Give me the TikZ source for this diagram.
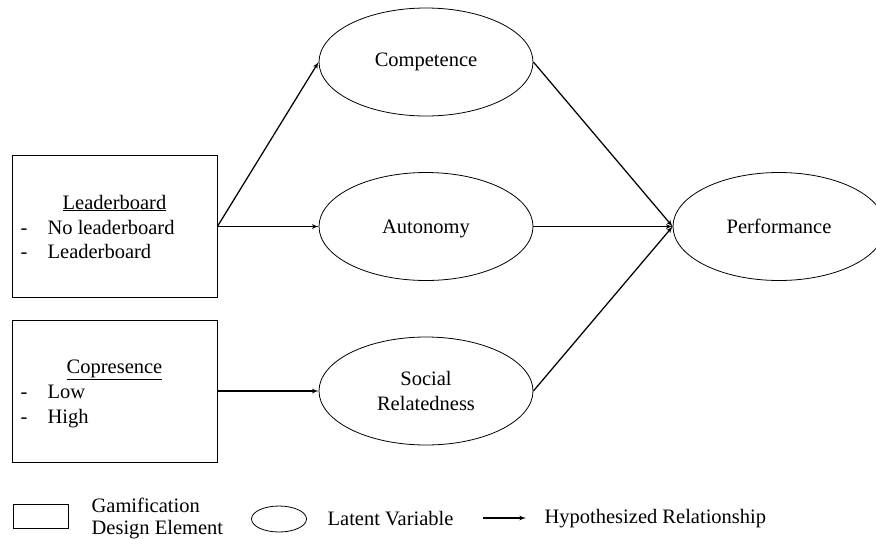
\documentclass[tikz,border=0pt]{standalone}
\usepackage{fontspec}
\setmainfont{Liberation Serif}
\usetikzlibrary{arrows,shapes.geometric}
\newcommand\itemdash{\makebox[27pt][l]{-}}

\begin{document}
\begin{tikzpicture}[x=1pt,y=-1pt,->,>=latex',line width=1.25pt]
    \tikzstyle{txt}=[inner sep=0pt, font=\fontsize{20.5}{25}\selectfont, text=black]
    \tikzstyle{element}=[draw=black, rectangle, line width=0.8pt, minimum width=205pt, minimum height=142pt, inner sep=0pt]
    \tikzstyle{latent}=[style=txt, draw=black, ellipse, line width=0.8pt, minimum width=214pt, minimum height=108pt, align=center]
    \tikzstyle{keytxt}=[style=txt, font=\fontsize{20.5}{22}\selectfont, align=left, anchor=west]

    \useasboundingbox (0,0) rectangle (876,539);

    % design elements
    \node[element] (lb) at (114.5,226.5) {};
    \node[txt,anchor=base] (lbtitle) at (114.5,209) {\underline{Leaderboard}};
    \node[txt,anchor=base west] (lbone) at (20,234) {\itemdash No leaderboard};
    \node[txt,anchor=base west] (lbtwo) at (20,258) {\itemdash Leaderboard};

    \node[element] (cp) at (114.5,391) {};
    \node[txt,anchor=base] (cptitle) at (114.5,373) {\underline{Copresence}};
    \node[txt,anchor=base west] (cpone) at (20,398) {\itemdash Low};
    \node[txt,anchor=base west] (cptwo) at (20,423) {\itemdash High};

    % latent variables
    \node[latent] (comp) at (426,62)  {Competence};
    \node[latent,text depth=0pt] (auto) at (426,226.5) {Autonomy};
    \node[latent] (soc)  at (426,391) {Social\\Relatedness};
    \node[latent,minimum width=212pt] (perf) at (779,226.5) {Performance};

    \path
     (lb.east)   edge[] (comp.west)
     (lb.east)   edge[] (auto.west)
     (cp.east)   edge[] (soc.west)
     (comp.east) edge[] (perf.west)
     (auto.east) edge[] (perf.west)
     (soc.east)  edge[] (perf.west)
     ;

    % key
    \node[element,minimum width=55pt,minimum height=24pt] (keybox) at (40.5,516) {};
    \node[keytxt] (keyboxtxt) at (91,518) {Gamification\\Design Element};
    \node[latent,minimum width=55pt,minimum height=26pt] (keyell) at (279,519) {};
    \node[keytxt] (keyelltxt) at (327,519) {Latent Variable};
    \coordinate (keyfrom) at (483,518);
    \coordinate (keyto) at (526,518);
    \path (keyfrom) edge[] (keyto);
    \node[keytxt] (keyarrtxt) at (544,519) {Hypothesized Relationship};
\end{tikzpicture}
\end{document}
